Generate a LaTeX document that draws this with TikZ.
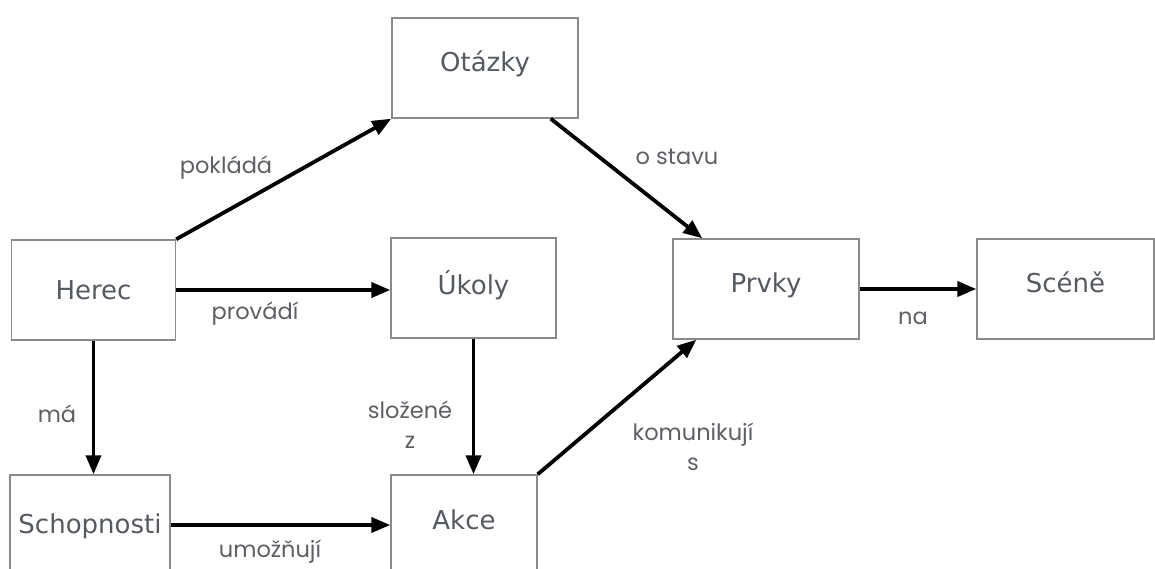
\documentclass[tikz,border=0pt]{standalone}
\usepackage{fontspec}
\usetikzlibrary{arrows.meta}
\newfontfamily\boxfont{DejaVu Sans}
\newfontfamily\labelfont{Poppins}
\definecolor{boxline}{HTML}{8A8A8A}
\definecolor{boxtext}{HTML}{555A60}
\definecolor{labeltext}{HTML}{5C5F63}
\tikzset{
  concept/.style={draw=boxline, line width=1.4pt, fill=white, inner sep=0pt,
    text=boxtext, font=\boxfont\fontsize{26}{30}\selectfont, text height=20pt},
  lift/.style={text depth=#1},
  relation/.style={text=labeltext, font=\labelfont\fontsize{22.5}{30}\selectfont,
    align=center, inner sep=0pt},
  link/.style={line width=3.8pt, -{Triangle[length=19pt,width=15pt]}}
}
\begin{document}
\begin{tikzpicture}[x=1pt, y=-1pt]
\useasboundingbox (0,0) rectangle (1155,569);
\clip (0,0) rectangle (1155,569);

% concepts
\node[concept, lift=13pt, minimum width=186pt, minimum height=100pt] (otazky) at (485,68) {Otázky};
\node[concept, lift=1pt, minimum width=164pt, minimum height=100pt] (herec) at (93.5,290) {Herec};
\node[concept, lift=7pt, minimum width=165pt, minimum height=100pt] (ukoly) at (473.5,288) {Úkoly};
\node[concept, lift=13pt, minimum width=186pt, minimum height=100pt] (prvky) at (766,289) {Prvky};
\node[concept, lift=13pt, minimum width=177pt, minimum height=100pt] (scene) at (1065.5,289) {Scéně};
\node[concept, lift=3pt, minimum width=160pt, minimum height=100pt] (schop) at (90,525) {Schopnosti};
\node[concept, lift=11pt, minimum width=146pt, minimum height=100pt] (akce) at (464,525) {Akce};

% relations
\draw[link] (herec.north east) -- (otazky.south west);
\draw[link] (herec.east) -- (ukoly.west |- herec.east);
\draw[link] (herec.south) -- (herec.south |- schop.north);
\draw[link] (ukoly.south) -- (ukoly.south |- akce.north);
\draw[link] (schop.east) -- (akce.west);
\draw[link] (akce.north east) -- ([xshift=24pt]prvky.south west);
\draw[link] ([xshift=-28pt]otazky.south east) -- ([xshift=30pt]prvky.north west);
\draw[link] (prvky.east) -- (scene.west);

% relation labels
\node[relation] (l-poklada) at (226,168) {pokládá};
\node[relation] (l-provadi) at (255,314) {provádí};
\node[relation] (l-ma) at (57,414) {má};
\node[relation] (l-slozene) at (410,425) {složené\\z};
\node[relation] (l-umoznuji) at (270,552) {umožňují};
\node[relation] (l-komunikuji) at (693,447) {komunikují\\s};
\node[relation] (l-ostavu) at (677,157) {o stavu};
\node[relation] (l-na) at (913,318) {na};
\end{tikzpicture}
\end{document}
